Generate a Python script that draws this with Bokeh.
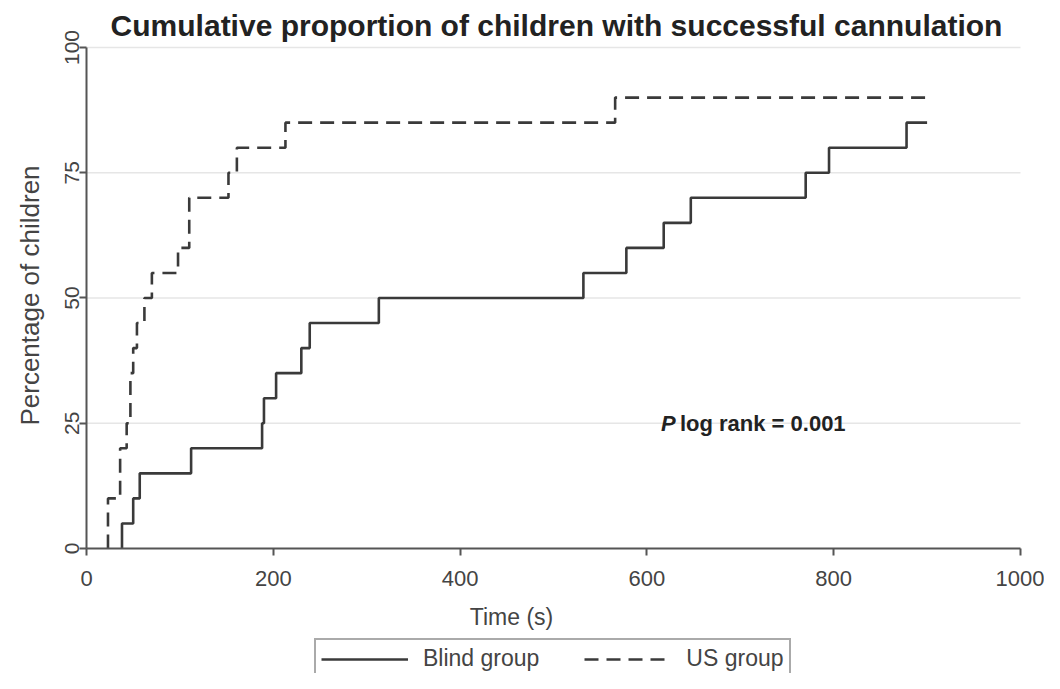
import math
from bokeh.plotting import figure
from bokeh.models import Range1d, Legend, LegendItem, FixedTicker, Label
from bokeh.embed import file_html
from bokeh.resources import INLINE

# --- data (time in seconds, cumulative % cannulated) ---
blind_time = [38, 50, 57, 112, 188, 190, 203, 230, 239, 313, 532, 578, 618, 647, 770, 795, 878]
blind_pct = [5, 10, 15, 20, 25, 30, 35, 40, 45, 50, 55, 60, 65, 70, 75, 80, 85]
us_time = [23, 36, 43, 47, 50, 54, 62, 70, 98, 110, 152, 161, 213, 566]
us_pct = [10, 20, 25, 35, 40, 45, 50, 55, 60, 70, 75, 80, 85, 90]
follow_up_end = 900
x_ticks = [0, 200, 400, 600, 800, 1000]
y_ticks = [0, 25, 50, 75, 100]

FONT = "Liberation Sans"
INK = "#3a3a3a"
TXT = "#444444"


def curve(times, pcts):
    xs = [times[0]] + list(times) + [follow_up_end]
    ys = [0] + list(pcts) + [pcts[-1]]
    return xs, ys


# The frame covers the whole 1044 x 673 figure; the axes sit at fixed data
# positions (x = 0, y = 0) so that titles and legend fit inside the frame.
p = figure(width=1044, height=673, output_backend="svg", toolbar_location=None,
           x_range=Range1d(-92.08, 1025.7), y_range=Range1d(-24.95, 109.38),
           min_border_left=0, min_border_right=0, min_border_top=0, min_border_bottom=0)

p.outline_line_color = None
p.xgrid.grid_line_color = None
p.ygrid.grid_line_color = None

# horizontal reference lines at the y ticks, across the axis extent
p.segment(x0=[x_ticks[0]] * 4, x1=[x_ticks[-1]] * 4, y0=y_ticks[1:], y1=y_ticks[1:],
          line_color="#e6e6e6", line_width=1.5)

bx, by = curve(blind_time, blind_pct)
ux, uy = curve(us_time, us_pct)
r_blind = p.step(bx, by, mode="after", line_color=INK, line_width=2.6)
r_us = p.step(ux, uy, mode="after", line_color=INK, line_width=2.6, line_dash="14 8")

for ax in (p.xaxis[0], p.yaxis[0]):
    ax.axis_line_color = "#555555"
    ax.axis_line_width = 2
    ax.major_tick_line_color = "#555555"
    ax.major_tick_line_width = 2
    ax.major_tick_out = 7
    ax.major_tick_in = 0
    ax.minor_tick_line_color = None
    ax.major_label_text_color = TXT
    ax.major_label_text_font = FONT

p.xaxis.fixed_location = 0
p.xaxis.bounds = (x_ticks[0], x_ticks[-1])
p.xaxis.ticker = FixedTicker(ticks=x_ticks)
p.xaxis.major_label_text_font_size = "22px"
p.xaxis.major_label_standoff = 16

p.yaxis.fixed_location = 0
p.yaxis.bounds = (y_ticks[0], y_ticks[-1])
p.yaxis.ticker = FixedTicker(ticks=y_ticks)
p.yaxis.major_label_text_font_size = "21px"
p.yaxis.major_label_orientation = "vertical"
p.yaxis.major_label_standoff = 0

# y-axis title
p.add_layout(Label(x=29, y=378, x_units="screen", y_units="screen", angle=math.pi / 2,
                   text="Percentage of children", text_font=FONT, text_font_size="26px",
                   text_color=TXT, text_align="center", text_baseline="middle"))

# title
p.add_layout(Label(x=556, y=648, x_units="screen", y_units="screen",
                   text="Cumulative proportion of children with successful cannulation",
                   text_font=FONT, text_font_size="30px", text_font_style="bold",
                   text_color="#222222", text_align="center", text_baseline="middle"))

# x-axis title
p.add_layout(Label(x=511, y=57, x_units="screen", y_units="screen", text="Time (s)",
                   text_font=FONT, text_font_size="23px", text_color=TXT,
                   text_align="center", text_baseline="middle"))

# log-rank annotation
p.add_layout(Label(x=615, y=25, text="P", text_font=FONT, text_font_size="22px",
                   text_font_style="bold italic", text_color="#222222", text_baseline="middle"))
p.add_layout(Label(x=615, y=25, x_offset=19, text="log rank = 0.001", text_font=FONT,
                   text_font_size="22px", text_font_style="bold", text_color="#222222",
                   text_baseline="middle"))

legend = Legend(items=[LegendItem(label="Blind group", renderers=[r_blind]),
                       LegendItem(label="US group", renderers=[r_us])],
                orientation="horizontal", location=(314, -6),
                glyph_width=87, glyph_height=20, label_standoff=15, spacing=45,
                padding=5, margin=0, border_line_color="#555555", border_line_width=2,
                label_text_font=FONT, label_text_font_size="23px", label_text_color=TXT,
                background_fill_color="white", background_fill_alpha=1.0)
p.add_layout(legend, "center")

open("out.html", "w").write(file_html(p, INLINE))
